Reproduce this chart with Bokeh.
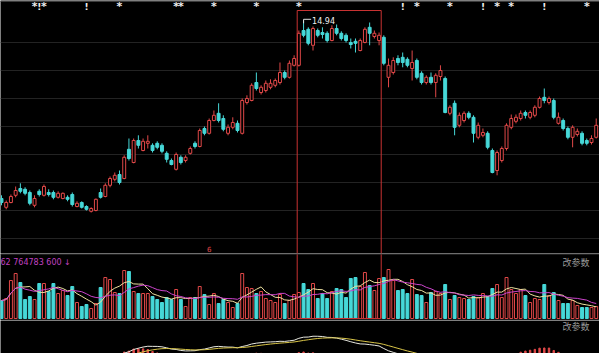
import numpy as np
import pandas as pd
from bokeh.plotting import figure
from bokeh.layouts import column
from bokeh.models import ColumnDataSource, Range1d, FixedTicker, Span
from bokeh.core.properties import value
from bokeh.embed import file_html
from bokeh.resources import INLINE

# ---------------- data ----------------
open_ = [10.49,10.27,10.39,10.57,10.74,10.72,10.64,10.32,10.67,10.57,
         10.64,10.64,10.52,10.49,10.52,10.59,10.29,10.39,10.29,10.17,
         10.19,10.64,10.54,10.82,10.97,11.09,10.99,11.72,11.39,11.94,
         11.69,11.87,11.82,11.87,11.82,11.62,11.44,11.22,11.52,11.44,
         11.62,11.87,11.79,12.24,12.12,12.44,12.62,12.49,12.12,12.27,
         12.37,12.12,12.89,12.94,13.39,13.14,13.19,13.27,13.32,13.39,
         13.64,13.52,13.82,13.82,14.69,14.72,14.32,14.69,14.64,14.62,
         14.44,14.74,14.62,14.57,14.39,14.42,14.19,14.39,14.77,14.54,
         14.44,14.52,13.52,13.64,13.99,14.02,13.97,13.74,13.94,13.62,
         13.39,13.52,13.39,13.54,13.49,12.62,12.87,12.32,12.44,12.62,
         12.52,12.02,12.07,12.12,11.69,11.19,11.44,11.74,12.27,12.42,
         12.49,12.64,12.52,12.57,12.77,13.02,12.89,12.94,12.37,12.44,
         12.24,12.02,12.09,12.12,11.94,11.89,12.02]
close = [10.39,10.39,10.54,10.69,10.67,10.62,10.37,10.49,10.59,10.79,
         10.59,10.52,10.62,10.62,10.47,10.34,10.37,10.27,10.22,10.24,
         10.47,10.52,10.82,10.99,11.07,10.89,11.52,11.49,11.94,11.82,
         11.92,11.92,11.69,11.77,11.67,11.47,11.34,11.59,11.39,11.52,
         11.74,11.79,12.19,12.12,12.44,12.57,12.44,12.22,12.27,12.39,
         12.19,12.94,12.99,13.32,13.24,13.27,13.37,13.37,13.44,13.64,
         13.52,13.87,13.99,14.62,14.57,14.37,14.74,14.57,14.59,14.44,
         14.74,14.62,14.49,14.44,14.34,14.37,14.44,14.72,14.62,14.62,
         14.57,13.87,13.82,13.94,13.89,13.89,13.82,13.89,13.52,13.39,
         13.52,13.39,13.57,13.69,12.64,12.77,12.27,12.57,12.62,12.52,
         12.12,12.32,12.14,11.77,11.14,11.64,11.74,12.32,12.49,12.52,
         12.62,12.57,12.64,12.77,12.99,12.94,12.99,12.52,12.52,12.24,
         12.02,12.27,12.17,11.87,11.87,11.99,12.32]
high = [10.57,10.44,10.59,10.79,10.87,10.77,10.69,10.57,10.72,10.84,
        10.72,10.69,10.67,10.64,10.57,10.64,10.42,10.42,10.32,10.27,
        10.49,10.74,10.87,11.04,11.14,11.19,11.57,11.99,11.99,12.07,
        11.99,12.07,11.87,11.92,11.87,11.67,11.49,11.64,11.57,11.57,
        11.79,11.92,12.24,12.29,12.49,12.69,12.87,12.57,12.34,12.52,
        12.44,12.99,13.07,13.37,13.64,13.32,13.44,13.47,13.49,13.89,
        13.69,13.94,14.07,14.69,14.94,14.77,14.79,14.74,14.77,14.67,
        14.82,14.84,14.67,14.62,14.49,14.49,14.49,14.77,14.89,14.69,
        14.64,14.57,13.99,14.02,14.07,14.14,14.02,14.19,13.99,13.67,
        13.57,13.64,13.62,13.82,13.54,12.82,12.94,12.64,12.67,12.67,
        12.57,12.39,12.24,12.17,11.74,11.69,11.79,12.37,12.59,12.59,
        12.69,12.69,12.69,12.82,13.04,13.24,13.04,12.99,12.64,12.49,
        12.29,12.32,12.24,12.17,11.99,12.07,12.49]
low = [10.32,10.22,10.37,10.52,10.62,10.57,10.32,10.27,10.54,10.54,
       10.54,10.47,10.49,10.47,10.42,10.29,10.27,10.24,10.19,10.14,
       10.17,10.49,10.52,10.77,10.92,10.84,10.97,11.44,11.37,11.74,
       11.67,11.74,11.64,11.72,11.62,11.39,11.32,11.19,11.34,11.39,
       11.59,11.74,11.77,12.07,12.09,12.42,12.39,12.17,12.07,12.22,
       12.14,12.09,12.84,12.92,13.19,13.09,13.14,13.22,13.27,13.34,
       13.47,13.49,13.79,13.79,14.52,14.32,14.19,14.52,14.49,14.39,
       14.42,14.57,14.44,14.39,14.24,14.14,14.17,14.37,14.32,14.49,
       14.32,13.82,13.27,13.59,13.82,13.77,13.77,13.44,13.47,13.34,
       13.34,13.34,13.02,13.44,12.62,12.57,12.07,12.27,12.39,12.47,
       11.89,11.97,12.02,11.72,11.12,11.07,11.39,11.69,12.22,12.37,
       12.44,12.49,12.47,12.52,12.74,12.87,12.84,12.47,12.34,12.19,
       11.97,11.77,12.04,11.82,11.82,11.84,11.99]
# volume, in 10k shares
volume = [36,40,76,90,72,38,44,38,70,70,54,70,50,56,46,64,32,24,28,20,
          30,62,82,78,52,50,96,94,54,50,50,50,44,38,32,42,38,58,38,24,
          42,42,64,48,
          28,50,30,38,32,22,30,90,62,60,50,54,40,36,32,48,30,36,48,52,
          70,58,70,40,50,40,54,60,58,42,80,82,64,92,66,56,80,82,98,76,56,
          58,50,78,48,46,32,52,54,50,68,38,46,42,40,38,44,42,50,44,60,
          68,42,82,58,50,58,46,32,40,38,68,46,52,36,30,30,36,26,22,22,22,24]

star_idx = [7, 9, 25, 37, 38, 45, 54, 63, 88, 95, 105, 108, 124]
bang_idx = [8, 18, 85, 102, 115]
grid_levels = [14.39, 13.69, 12.99, 12.29, 11.59, 10.89, 10.19, 9.49]
box_start, box_end = 63, 80
box_top = 15.19
signal_idx, signal_price = 44, 9.24
vol_text = "62  764783  600  \u2193"
param_text = "改参数"

# ---------------- styles ----------------
BG = "#000000"
RED = "#e04848"
CYAN = "#46d8d8"
GRID = "#232323"
BOX = "#c83232"
W = 599
N = len(close)
X0 = -0.21
X1 = X0 + W / 4.72

o = np.array(open_); c = np.array(close)
up = c >= o
df = pd.DataFrame(dict(
    x=np.arange(N), open=o, close=c, high=high, low=low,
    top=np.maximum(o, c), bottom=np.minimum(o, c),
    color=np.where(up, RED, CYAN), fill=np.where(up, BG, CYAN),
))
vol_n = len(volume)
vdf = pd.DataFrame(dict(x=np.arange(vol_n), vol=volume,
                        color=df["color"][:vol_n].values, fill=df["fill"][:vol_n].values))
vdf["ma5"] = vdf["vol"].rolling(5, min_periods=1).mean()
vdf["ma10"] = vdf["vol"].rolling(10, min_periods=1).mean()

cs = pd.Series(c)
dif = cs.ewm(span=12, adjust=False).mean() - cs.ewm(span=26, adjust=False).mean()
dea = dif.ewm(span=9, adjust=False).mean()
hist = 2 * (dif - dea)
mdf = pd.DataFrame(dict(x=np.arange(N), dif=dif, dea=dea, hist=hist,
                        color=np.where(hist >= 0, RED, CYAN)))

src = ColumnDataSource(df)
vsrc = ColumnDataSource(vdf)
msrc = ColumnDataSource(mdf)


def base(h, y0, y1):
    p = figure(width=W, height=h, output_backend="svg", toolbar_location=None,
               x_range=Range1d(X0, X1), y_range=Range1d(y0, y1),
               background_fill_color=BG, border_fill_color=BG,
               min_border=0, min_border_left=0, min_border_right=0,
               min_border_top=0, min_border_bottom=0)
    p.outline_line_color = None
    p.xaxis.visible = False
    p.yaxis.visible = False
    p.xgrid.grid_line_color = None
    p.ygrid.grid_line_color = None
    return p

# ---------------- main price panel ----------------
H1 = 253
top_price = 15.44
p1 = base(H1, top_price - H1 / 40.0, top_price)
p1.ygrid.ticker = FixedTicker(ticks=grid_levels)
p1.ygrid.grid_line_color = GRID
p1.add_layout(Span(location=top_price - 1.0 / 40, dimension="width",
                   line_color="#3c3c3c", line_width=1))

p1.segment(x0="x", y0="high", x1="x", y1="low", color="color", line_width=1, source=src)
p1.vbar(x="x", width=0.62, top="top", bottom="bottom", fill_color="fill",
        line_color="color", line_width=1, source=src)

p1.quad(left=[box_start - 0.35], right=[box_end + 0.45], top=[box_top],
        bottom=[top_price - 400 / 40.0], fill_alpha=0, line_color=BOX, line_width=1)

star_y = top_price - 6.0 / 40
p1.text(x=star_idx, y=[star_y] * len(star_idx), text=["*"] * len(star_idx),
        text_color="#f0f0f0", text_font=value("DejaVu Sans"), text_font_size="11px",
        text_font_style="bold", text_align="center", text_baseline="middle")
p1.text(x=bang_idx, y=[star_y] * len(bang_idx), text=["!"] * len(bang_idx),
        text_color="#f0f0f0", text_font=value("DejaVu Sans"), text_font_size="9px",
        text_font_style="bold", text_align="center", text_baseline="middle")

hi = int(np.argmax(high))
p1.segment(x0=[hi], y0=[high[hi] + 0.03], x1=[hi + 1.6], y1=[high[hi] + 0.03],
           color="#e0e0e0", line_width=1)
p1.segment(x0=[hi], y0=[high[hi] + 0.03], x1=[hi], y1=[high[hi] - 0.07],
           color="#e0e0e0", line_width=1)
p1.text(x=[hi + 1.8], y=[high[hi] - 0.01], text=["%.2f" % high[hi]],
        text_color="#f0f0f0", text_font=value("DejaVu Sans"), text_font_size="8px",
        text_align="left", text_baseline="middle")
p1.text(x=[signal_idx], y=[signal_price], text=["6"], text_color=RED,
        text_font=value("DejaVu Sans"), text_font_size="7px",
        text_align="center", text_baseline="middle")

# ---------------- volume panel ----------------
H2 = 67
vtop = 130
p2 = base(H2, vtop - H2 * 2, vtop)
p2.add_layout(Span(location=vtop - 1.0, dimension="width", line_color="#3c3c3c", line_width=1))
p2.add_layout(Span(location=vtop - H2 * 2 + 1.0, dimension="width", line_color="#3c3c3c", line_width=1))
p2.vbar(x="x", width=0.62, top="vol", bottom=0, fill_color="fill",
        line_color="color", line_width=1, source=vsrc)
p2.line(x="x", y="ma5", color="#eee2a0", line_width=1, source=vsrc)
p2.line(x="x", y="ma10", color="#cc44cc", line_width=1, source=vsrc)
p2.quad(left=[box_start - 0.35], right=[box_end + 0.45], top=[vtop + 50],
        bottom=[0], fill_alpha=0, line_color=BOX, line_width=1)
p2.text(x=[X0], y=[vtop - 9 * 2], text=[vol_text], text_color="#c040c0",
        text_font=value("DejaVu Sans"), text_font_size="8px",
        text_align="left", text_baseline="middle")
p2.text(x=[124.6], y=[vtop - 9 * 2], text=[param_text], text_color="#9a9a9a",
        text_font=value("Noto Sans CJK SC"), text_font_size="9px",
        text_align="right", text_baseline="middle")

# ---------------- MACD panel ----------------
H3 = 33
m0, m1 = 0.15, 1.15
p3 = base(H3, m0, m1)
p3.vbar(x="x", width=0.3, top="hist", bottom=0, color="color", source=msrc)
p3.line(x="x", y="dif", color="#e8e8e0", line_width=1, source=msrc)
p3.line(x="x", y="dea", color="#d8c448", line_width=1, source=msrc)
p3.text(x=[124.6], y=[m1 - 6 * (m1 - m0) / H3], text=[param_text], text_color="#9a9a9a",
        text_font=value("Noto Sans CJK SC"), text_font_size="9px",
        text_align="right", text_baseline="middle")

layout = column(p1, p2, p3)
open("out.html", "w").write(file_html(layout, INLINE))
